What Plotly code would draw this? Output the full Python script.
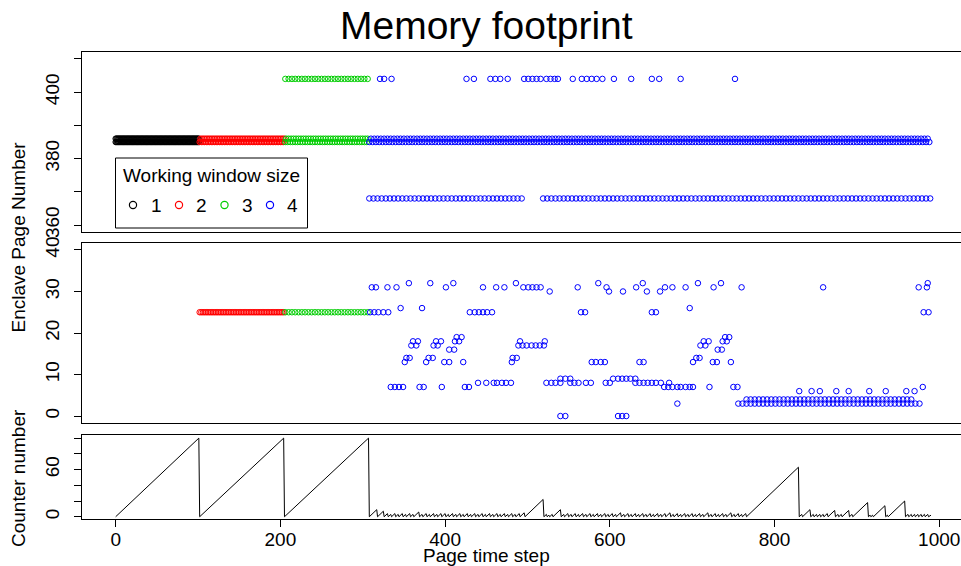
import plotly.graph_objects as go

# ------------------------------------------------------------------ data
# Dense rows, given as runs: (page, first step, last step, stride)
black_top_runs = [(385, 0, 101, 1), (386, 0, 101, 1)]
red_top_runs = [(385, 102, 205, 2), (386, 103, 205, 2)]
green_top_runs = [(385, 206, 307, 3), (386, 207, 307, 3), (404, 206, 307, 4)]
blue_top_runs = [(385, 308, 989, 4), (386, 310, 989, 4),
                 (368, 308, 495, 5), (368, 519, 989, 5)]
red_mid_runs = [(25, 102, 205, 2)]
green_mid_runs = [(25, 206, 306, 4)]
blue_mid_runs = [(3, 756, 978, 5), (4, 766, 966, 5)]

# Sparse blue pages (time steps at which each page appears)
blue_404_steps = [321, 326, 335, 426, 435, 455, 461, 467, 476, 496, 501, 506, 511,
                  516, 523, 528, 533, 537, 555, 566, 572, 578, 584, 591, 605, 626,
                  651, 660, 686, 752]
page_32_steps = [356, 382, 410, 486, 586, 640, 707, 735, 986]
page_31_steps = [311, 316, 330, 341, 401, 446, 462, 472, 495, 501, 506, 511, 516,
                 561, 596, 632, 667, 676, 692, 726, 760, 859, 975, 985]
page_30_steps = [527, 599, 616, 645, 661]
page_26_steps = [346, 372, 697]
page_25_steps = [309, 314, 319, 325, 331, 430, 436, 441, 446, 451, 457, 565, 570,
                 651, 656, 981, 987]
page_19_steps = [414, 420, 740, 745]
page_18_steps = [361, 367, 389, 395, 412, 417, 491, 521, 714, 720, 737, 742]
page_17_steps = [359, 365, 386, 391, 489, 494, 499, 505, 510, 515, 520, 710, 716]
page_16_steps = [405, 411, 731, 736]
page_14_steps = [353, 357, 380, 385, 482, 487, 705, 709]
page_13_steps = [351, 377, 399, 405, 422, 481, 578, 583, 589, 594, 636, 641, 701,
                 725, 730, 747]
page_9_steps = [540, 546, 552, 604, 610, 615, 620, 625, 631]
page_8_steps = [440, 450, 459, 463, 469, 474, 480, 523, 529, 534, 540, 552, 557, 562,
                571, 577, 595, 600, 631, 636, 641, 646, 651, 656, 662, 672]
page_7_steps = [334, 339, 344, 349, 369, 374, 396, 424, 429, 666, 671, 676, 682, 686,
                692, 697, 701, 721, 750, 755, 980]
page_6_steps = [830, 845, 855, 875, 890, 915, 935, 960, 970]
page_3_steps = [682]
page_0_steps = [540, 546, 610, 615, 620]

blue_mid_pages = [32, 31, 30, 26, 25, 19, 18, 17, 16, 14, 13, 9, 8, 7, 6, 3, 0]
blue_mid_steps = [page_32_steps, page_31_steps, page_30_steps, page_26_steps,
                  page_25_steps, page_19_steps, page_18_steps, page_17_steps,
                  page_16_steps, page_14_steps, page_13_steps, page_9_steps,
                  page_8_steps, page_7_steps, page_6_steps, page_3_steps,
                  page_0_steps]

# Counter: steps at which it drops back to 0, and its value just before each drop
counter_reset_t = [0, 102, 205, 308, 318, 326, 331, 335, 340, 344, 349, 353, 358, 362,
                   369, 373, 378, 382, 387, 391, 396, 401, 405, 410, 414, 419, 423, 428,
                   432, 437, 441, 446, 450, 455, 459, 464, 468, 473, 477, 482, 486, 491,
                   497, 520, 524, 527, 531, 541, 545, 550, 554, 559, 563, 568, 572, 577,
                   581, 586, 590, 595, 599, 604, 608, 614, 618, 623, 627, 632, 636, 641,
                   645, 650, 654, 659, 663, 668, 674, 678, 683, 687, 692, 696, 701, 705,
                   710, 714, 720, 724, 729, 733, 738, 742, 748, 752, 757, 761, 766, 830,
                   834, 844, 848, 852, 856, 860, 865, 874, 878, 882, 891, 895, 914, 917,
                   920, 935, 938, 959, 963, 967, 971, 975, 979, 983, 987]
counter_peak_v = [100, 100, 100, 9, 7, 4, 3, 4, 3, 4, 3, 4, 3, 6,
                  3, 4, 3, 4, 3, 4, 4, 3, 4, 3, 4, 3, 4, 3,
                  4, 3, 4, 3, 4, 3, 4, 3, 4, 3, 4, 3, 4, 5,
                  22, 3, 2, 3, 9, 3, 4, 3, 4, 3, 4, 3, 4, 3,
                  4, 3, 4, 3, 4, 3, 5, 3, 4, 3, 4, 3, 4, 3,
                  4, 3, 4, 3, 4, 5, 3, 4, 3, 4, 3, 4, 3, 4,
                  3, 5, 3, 4, 3, 4, 3, 5, 3, 4, 3, 4, 63,
                  3, 9, 3, 3, 3, 3, 4, 8, 3, 3, 8, 3, 18, 2,
                  2, 14, 2, 20, 3, 3, 3, 3, 3, 3, 3]
counter_end_t, counter_end_v = 990, 2

# ------------------------------------------------------------------ build
W, H = 961, 566
FONT = "Liberation Sans, Arial, Helvetica, sans-serif"
COL = {"1": "#000000", "2": "#FF0000", "3": "#00CD00", "4": "#0000FF"}


def expand(runs):
    xs, ys = [], []
    for page, a, b, s in runs:
        for t in range(a, b + 1, s):
            xs.append(t)
            ys.append(page)
    return xs, ys


def px(x):
    return x / W


def py(y):
    return 1 - y / H


fig = go.Figure()
mk = dict(symbol="circle-open", size=5.5, line=dict(width=1))

groups = [
    ("1", black_top_runs, []),
    ("2", red_top_runs, red_mid_runs),
    ("3", green_top_runs, green_mid_runs),
    ("4", blue_top_runs, blue_mid_runs),
]
for key, top_runs, mid_runs in groups:
    tx, ty = expand(top_runs)
    mx, my = expand(mid_runs)
    if key == "4":
        tx += blue_404_steps
        ty += [404] * len(blue_404_steps)
        for page, steps in zip(blue_mid_pages, blue_mid_steps):
            mx += steps
            my += [page] * len(steps)
    m = dict(mk, color=COL[key])
    fig.add_trace(go.Scatter(x=tx, y=ty, mode="markers", marker=m,
                             xaxis="x3", yaxis="y3", showlegend=False, hoverinfo="skip"))
    if mx:
        fig.add_trace(go.Scatter(x=mx, y=my, mode="markers", marker=m,
                                 xaxis="x2", yaxis="y2", showlegend=False,
                                 hoverinfo="skip"))

# counter line
cx, cy = [], []
for i in range(len(counter_reset_t) - 1):
    cx += [counter_reset_t[i], counter_reset_t[i + 1] - 1]
    cy += [0, counter_peak_v[i]]
cx += [counter_reset_t[-1], counter_end_t]
cy += [0, counter_end_v]
fig.add_trace(go.Scatter(x=cx, y=cy, mode="lines", line=dict(color="black", width=1),
                         xaxis="x", yaxis="y", showlegend=False, hoverinfo="skip"))

xdom = [82.3 / W, 1.0]
xrange_ = [-40.5, 1026.4]
axcommon = dict(showline=True, mirror=True, linecolor="black", linewidth=1,
                showgrid=False, zeroline=False, ticks="outside", ticklen=7,
                tickwidth=1, tickcolor="black", automargin=False,
                tickfont=dict(family=FONT, size=19, color="black"))
ycommon = dict(axcommon, tickangle=-90, ticklabelstandoff=8)

fig.update_layout(
    width=W, height=H, margin=dict(l=0, r=0, t=0, b=0),
    paper_bgcolor="white", plot_bgcolor="white", showlegend=False,
    xaxis=dict(axcommon, domain=xdom, range=xrange_, anchor="y",
               tickvals=[0, 200, 400, 600, 800, 1000], ticklabelstandoff=-4),
    xaxis2=dict(axcommon, domain=xdom, range=xrange_, anchor="y2", ticks="",
                showticklabels=False),
    xaxis3=dict(axcommon, domain=xdom, range=xrange_, anchor="y3", ticks="",
                showticklabels=False),
    yaxis=dict(ycommon, domain=[py(518.7), py(435)], range=[-2.5, 104], anchor="x",
               tickvals=[0, 20, 40, 60, 80, 100],
               ticktext=["0", "", "", "60", "", ""]),
    yaxis2=dict(ycommon, domain=[py(422.7), py(243.3)], range=[-1.6, 41.6],
                anchor="x2", tickvals=[0, 10, 20, 30, 40]),
    yaxis3=dict(ycommon, domain=[py(231.7), py(52.3)], range=[358, 412],
                anchor="x3", tickvals=[360, 370, 380, 390, 400, 410],
                ticktext=["360", "", "380", "", "400", ""]),
)

ann = []
ann.append(dict(text="Memory footprint", x=px(486), y=py(26), xref="paper",
                yref="paper", showarrow=False, xanchor="center", yanchor="middle",
                font=dict(family=FONT, size=39, color="black")))
ann.append(dict(text="Enclave Page Number", x=px(18), y=py(237.5), xref="paper",
                yref="paper", showarrow=False, textangle=-90, xanchor="center",
                yanchor="middle", font=dict(family=FONT, size=19, color="black")))
ann.append(dict(text="Counter number", x=px(18), y=py(478), xref="paper",
                yref="paper", showarrow=False, textangle=-90, xanchor="center",
                yanchor="middle", font=dict(family=FONT, size=19, color="black")))
ann.append(dict(text="Page time step", x=px(486), y=py(555), xref="paper",
                yref="paper", showarrow=False, xanchor="center", yanchor="middle",
                font=dict(family=FONT, size=19, color="black")))
# legend
ann.append(dict(text="Working window size", x=px(211.5), y=py(175.5), xref="paper",
                yref="paper", showarrow=False, xanchor="center", yanchor="middle",
                font=dict(family=FONT, size=19, color="black")))
shapes = [dict(type="rect", xref="paper", yref="paper", x0=px(115.5), x1=px(307.5),
               y0=py(228), y1=py(158), line=dict(color="black", width=1),
               fillcolor="white", layer="above")]
leg_keys = ["1", "2", "3", "4"]
leg_sym_x = [133, 179, 224.5, 270]
leg_txt_x = [156, 201.5, 247, 292.5]
for k, sx, tx in zip(leg_keys, leg_sym_x, leg_txt_x):
    r = 3.6
    shapes.append(dict(type="circle", xref="paper", yref="paper", x0=px(sx - r),
                       x1=px(sx + r), y0=py(205 + r), y1=py(205 - r),
                       line=dict(color=COL[k], width=1.2), layer="above"))
    ann.append(dict(text=k, x=px(tx), y=py(206), xref="paper", yref="paper",
                    showarrow=False, xanchor="center", yanchor="middle",
                    font=dict(family=FONT, size=19, color="black")))
fig.update_layout(annotations=ann, shapes=shapes)

fig.write_html("out.html")
